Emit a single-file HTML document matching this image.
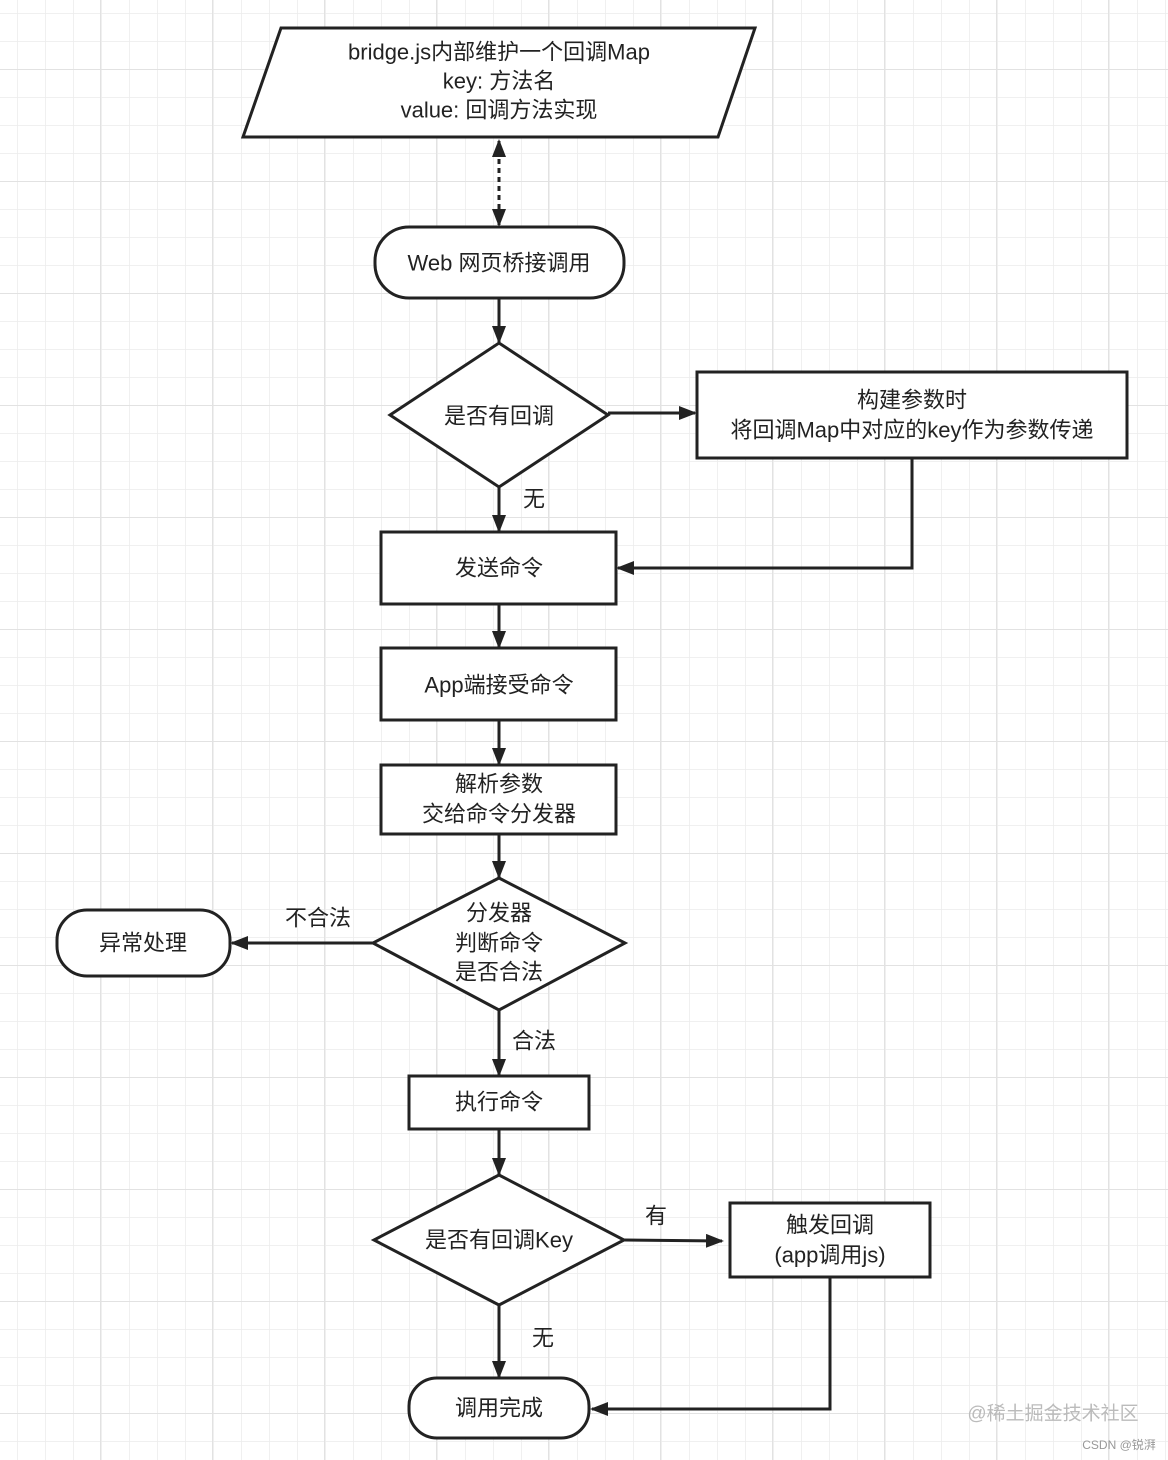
<!DOCTYPE html>
<html><head><meta charset="utf-8"><style>
html,body{margin:0;padding:0;background:#fff}
svg{display:block}
text{font-family:"Liberation Sans","Noto Sans CJK SC",sans-serif;font-size:22px;fill:#222;text-anchor:middle;dominant-baseline:central}
</style></head><body>
<svg width="1168" height="1460" viewBox="0 0 1168 1460" xmlns="http://www.w3.org/2000/svg">
<defs>
<pattern id="g" x="17" y="13" width="28" height="28" patternUnits="userSpaceOnUse">
<path d="M0 0V28M0 0H28" stroke="#ececec" stroke-width="1.5" fill="none"/>
</pattern>
<pattern id="G" x="100" y="69" width="112" height="112" patternUnits="userSpaceOnUse">
<path d="M0 0V112M0 0H112" stroke="#e2e2e2" stroke-width="2" fill="none"/>
</pattern>
<marker id="a" markerWidth="18" markerHeight="14" refX="16" refY="7" orient="auto" markerUnits="userSpaceOnUse">
<path d="M0 0L18 7L0 14Z" fill="#222"/>
</marker>
<marker id="b" markerWidth="18" markerHeight="14" refX="2" refY="7" orient="auto" markerUnits="userSpaceOnUse">
<path d="M18 0L0 7L18 14Z" fill="#222"/>
</marker>
</defs>
<rect width="1168" height="1460" fill="url(#g)"/>
<rect width="1168" height="1460" fill="url(#G)"/>
<g stroke="#222" stroke-width="3" fill="#fff">
<path d="M281 28H755L718 137H243Z"/>
<rect x="375" y="227" width="249" height="71" rx="34"/>
<path d="M499 343L608 415L499 487L390 415Z"/>
<rect x="697" y="372" width="430" height="86"/>
<rect x="381" y="532" width="235" height="72"/>
<rect x="381" y="648" width="235" height="72"/>
<rect x="381" y="765" width="235" height="69"/>
<path d="M499 878L625 943L499 1010L373 943Z"/>
<rect x="57" y="910" width="173" height="66" rx="30"/>
<rect x="409" y="1076" width="180" height="53"/>
<path d="M499 1175L624 1240L499 1305L374 1240Z"/>
<rect x="730" y="1203" width="200" height="74"/>
<rect x="409" y="1378" width="180" height="60" rx="28"/>
</g>
<g stroke="#222" stroke-width="3" fill="none">
<path d="M499 141V225" stroke-dasharray="5 4" marker-start="url(#b)" marker-end="url(#a)"/>
<path d="M499 298V342" marker-end="url(#a)"/>
<path d="M608 413H695" marker-end="url(#a)"/>
<path d="M912 458V568H618" marker-end="url(#a)"/>
<path d="M499 487V531" marker-end="url(#a)"/>
<path d="M499 604V647" marker-end="url(#a)"/>
<path d="M499 720V764" marker-end="url(#a)"/>
<path d="M499 834V877" marker-end="url(#a)"/>
<path d="M373 943H232" marker-end="url(#a)"/>
<path d="M499 1010V1075" marker-end="url(#a)"/>
<path d="M499 1129V1174" marker-end="url(#a)"/>
<path d="M624 1240L722 1241" marker-end="url(#a)"/>
<path d="M830 1277V1409H592" marker-end="url(#a)"/>
<path d="M499 1305V1377" marker-end="url(#a)"/>
</g>
<text x="499" y="52">bridge.js内部维护一个回调Map</text>
<text x="499" y="81">key: 方法名</text>
<text x="499" y="110">value: 回调方法实现</text>
<text x="499" y="263">Web 网页桥接调用</text>
<text x="499" y="416">是否有回调</text>
<text x="912" y="400">构建参数时</text>
<text x="912" y="430">将回调Map中对应的key作为参数传递</text>
<text x="534" y="499">无</text>
<text x="499" y="568">发送命令</text>
<text x="499" y="685">App端接受命令</text>
<text x="499" y="784">解析参数</text>
<text x="499" y="814">交给命令分发器</text>
<text x="499" y="913">分发器</text>
<text x="499" y="943">判断命令</text>
<text x="499" y="972">是否合法</text>
<text x="318" y="918">不合法</text>
<text x="143" y="943">异常处理</text>
<text x="534" y="1041">合法</text>
<text x="499" y="1102">执行命令</text>
<text x="499" y="1240">是否有回调Key</text>
<text x="656" y="1216">有</text>
<text x="830" y="1225">触发回调</text>
<text x="830" y="1255">(app调用js)</text>
<text x="543" y="1338">无</text>
<text x="499" y="1408">调用完成</text>
<text x="1053" y="1414" style="font-size:19px;fill:#bbb">@稀土掘金技术社区</text>
<text x="1119" y="1445" style="font-size:12px;fill:#999">CSDN @锐湃</text>
</svg>
</body></html>
